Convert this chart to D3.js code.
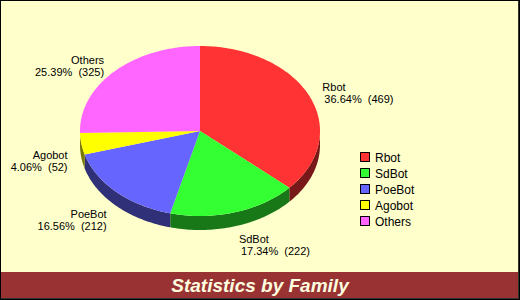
<!DOCTYPE html>
<html>
<head>
<script src="https://d3js.org/d3.v7.min.js"></script>
<style>
  body { margin: 0; background: #fff; }
  text { font-family: "Liberation Sans", Arial, sans-serif; }
</style>
</head>
<body>
<svg width="520" height="300"></svg>
<script>
const families = ["Rbot", "SdBot", "PoeBot", "Agobot", "Others"];
const counts = [469, 222, 212, 52, 325];
const colors = ["#ff3333", "#33ff33", "#6666ff", "#ffff00", "#ff66ff"];
const title = "Statistics by Family";

const svg = d3.select("svg"), width = +svg.attr("width"), height = +svg.attr("height");
const cx = 200, cy = 131, rx = 120, ry = 85, depth = 14;

svg.append("rect").attr("width", width).attr("height", height).attr("fill", "#ffffcc");

const total = d3.sum(counts);
const data = families.map((f, i) => ({ name: f, value: counts[i], color: colors[i] }));
const arcs = d3.pie().value(d => d.value).sort(null)(data);

function pt(a, dy) {
  return [cx + rx * Math.sin(a), cy - ry * Math.cos(a) + (dy || 0)];
}
function arcPoints(a0, a1, dy) {
  const n = Math.max(2, Math.ceil((a1 - a0) / 0.02));
  const pts = [];
  for (let k = 0; k <= n; k++) pts.push(pt(a0 + (a1 - a0) * k / n, dy));
  return pts;
}
const line = d3.line();

// side walls (front half only: angles pi/2 .. 3pi/2)
const sides = svg.append("g");
arcs.forEach(d => {
  const a0 = Math.max(d.startAngle, Math.PI / 2), a1 = Math.min(d.endAngle, 3 * Math.PI / 2);
  if (a1 <= a0) return;
  const pts = arcPoints(a0, a1, 0).concat(arcPoints(a0, a1, depth).reverse());
  const c = d3.rgb(d.data.color);
  sides.append("path")
    .attr("d", line(pts) + "Z")
    .attr("fill", d3.rgb(c.r * 0.47, c.g * 0.47, c.b * 0.47));
});

// top faces
svg.append("g").selectAll("path")
  .data(arcs)
  .enter().append("path")
  .attr("d", d => line([[cx, cy]].concat(arcPoints(d.startAngle, d.endAngle, 0))) + "Z")
  .attr("fill", d => d.data.color);

// slice labels
const labels = svg.append("g").attr("font-size", 11).attr("fill", "#000");
arcs.forEach(d => {
  const m = (d.startAngle + d.endAngle) / 2;
  const s = Math.sin(m), c = Math.cos(m);
  const ax = cx + (rx + 14) * s;
  const ay = cy - c * (c > 0 ? ry + 8 : ry + 20) + (c < 0 ? depth : 0);
  const anchor = s >= 0 ? "start" : "end";
  const pct = (d.data.value / total * 100).toFixed(2) + "%\u00a0\u00a0(" + d.data.value + ")";
  const t = labels.append("text").attr("text-anchor", anchor);
  t.append("tspan").attr("x", ax).attr("y", ay - 2).text(d.data.name);
  t.append("tspan").attr("x", ax + (s >= 0 ? 2 : 0)).attr("y", ay + 10).text(pct);
});

// legend
const legend = svg.append("g").attr("transform", "translate(360,152)");
const row = legend.selectAll("g").data(data).enter().append("g")
  .attr("transform", (d, i) => "translate(0," + i * 16 + ")");
row.append("rect").attr("x", 0.5).attr("y", 0.5).attr("width", 9).attr("height", 9)
  .attr("fill", d => d.color).attr("stroke", "#000").attr("stroke-width", 1);
row.append("text").attr("x", 15).attr("y", 9.5).attr("font-size", 12).text(d => d.name);

// title bar
svg.append("rect").attr("x", 0).attr("y", 272).attr("width", width).attr("height", height - 272)
  .attr("fill", "#993333");
svg.append("text").attr("x", width / 2).attr("y", 292).attr("text-anchor", "middle")
  .attr("font-size", 19).attr("font-weight", "bold").attr("font-style", "italic")
  .attr("fill", "#ffffe0").text(title);

// frame
svg.append("rect").attr("x", 0.5).attr("y", 0.5).attr("width", width - 1).attr("height", height - 1)
  .attr("fill", "none").attr("stroke", "#000");
svg.append("path").attr("d", "M" + (width - 1.5) + ",1V" + (height - 1.5) + "H1")
  .attr("fill", "none").attr("stroke", "#333");
</script>
</body>
</html>
